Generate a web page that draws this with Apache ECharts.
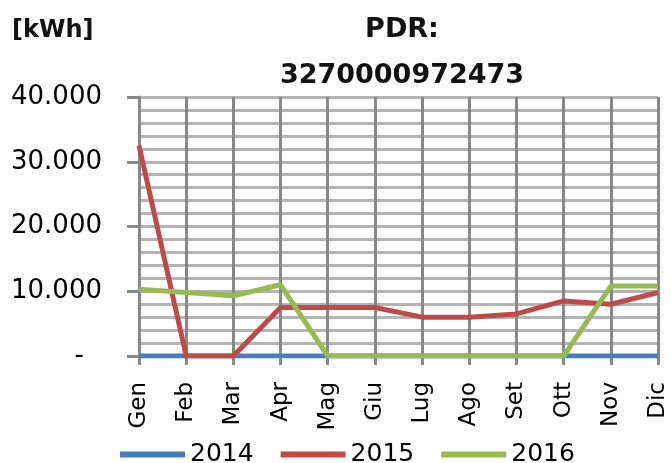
<!DOCTYPE html>
<html>
<head>
<meta charset="utf-8">
<script src="https://cdn.jsdelivr.net/npm/echarts@6/dist/echarts.min.js"></script>
<style>
html,body{margin:0;padding:0;background:#fff;}
#chart{width:671px;height:463px;}
</style>
</head>
<body>
<div id="chart"></div>
<script>
// dati
var mesi = ['Gen','Feb','Mar','Apr','Mag','Giu','Lug','Ago','Set','Ott','Nov','Dic'];
var anni = ['2014','2015','2016'];
var val2014 = [0,0,0,0,0,0,0,0,0,0,0,0];
var val2015 = [32500,0,0,7500,7500,7500,6000,6000,6500,8500,8000,9800];
var val2016 = [10300,9800,9300,11000,0,0,0,0,0,0,10800,10800];
var colori = ['#4a7ebb','#be4b48','#98b954'];

var font = "'DejaVu Sans', sans-serif";

var chart = echarts.init(document.getElementById('chart'));

function fmt(v){
    if(v === 0) return '{d|-}';
    return String(v).replace(/\B(?=(\d{3})+(?!\d))/g, '.');
}

var serie = [val2014, val2015, val2016];
var series = [];
for(var i=0;i<anni.length;i++){
    series.push({
        name: anni[i],
        type: 'line',
        data: serie[i],
        symbol: 'none',
        z: 2 + i,
        lineStyle: {color: colori[i], width: 5},
        itemStyle: {color: colori[i]}
    });
}

var option = {
    animation: false,
    title: [{
        text: 'PDR:\n3270000972473',
        left: 397,
        top: 2,
        textAlign: 'center',
        textStyle: {fontFamily: font, fontSize: 27, fontWeight: 'bold', color: '#111', lineHeight: 46}
    },{
        text: '[kWh]',
        left: 7,
        top: 14,
        textStyle: {fontFamily: font, fontSize: 24, fontWeight: 'bold', color: '#111'}
    }],
    legend: {
        top: 437,
        left: 115,
        itemWidth: 65,
        itemHeight: 6,
        itemGap: 27,
        icon: 'rect',
        data: anni,
        textStyle: {fontFamily: font, fontSize: 25, color: '#000'}
    },
    grid: {left: 139, right: 13, top: 97, bottom: 107},
    xAxis: {
        type: 'category',
        data: mesi,
        boundaryGap: false,
        axisLine: {lineStyle: {color: '#888', width: 3}},
        axisTick: {show: true, length: 9, lineStyle: {color: '#888', width: 3}},
        axisLabel: {rotate: 90, fontFamily: font, fontSize: 23, color: '#000', margin: 26},
        splitLine: {show: true, lineStyle: {color: '#888', width: 3}}
    },
    yAxis: {
        type: 'value',
        min: 0,
        max: 40000,
        interval: 10000,
        axisLine: {show: true, lineStyle: {color: '#888', width: 3}},
        axisTick: {show: true, length: 12, lineStyle: {color: '#888', width: 3}},
        axisLabel: {
            formatter: fmt, fontFamily: font, fontSize: 26, color: '#000', margin: 37,
            rich: {d: {fontFamily: font, fontSize: 26, color: '#000', padding: [0, 18, 0, 0]}}
        },
        splitLine: {show: true, lineStyle: {color: '#b4b4b4', width: 3}},
        minorTick: {show: false, splitNumber: 5},
        minorSplitLine: {show: true, lineStyle: {color: '#b4b4b4', width: 3}}
    },
    series: series
};
chart.setOption(option);
</script>
</body>
</html>
